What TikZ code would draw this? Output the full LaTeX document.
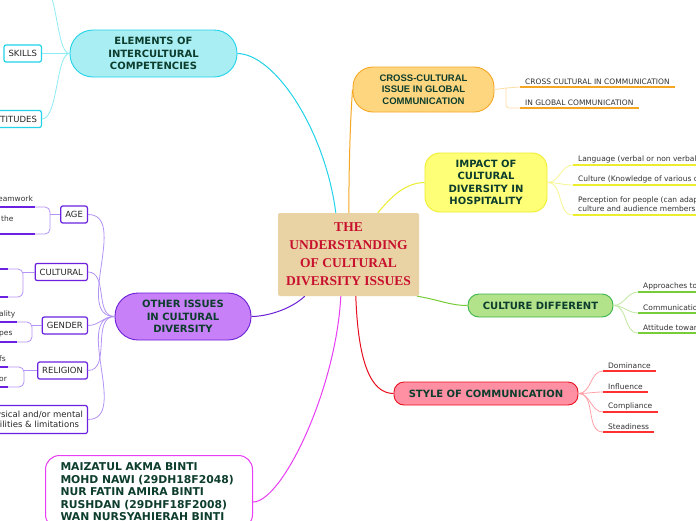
\documentclass[tikz,border=0pt]{standalone}
\usepackage{fontspec}
\usetikzlibrary{calc}
\setmainfont{DejaVu Sans}
\newfontfamily\titlefont{Liberation Serif}
\newfontfamily\arialfont{Liberation Sans}
\definecolor{tdark}{HTML}{0D3D2D}
\definecolor{tred}{HTML}{C8102E}
\definecolor{ctan}{HTML}{E9D3A4}
\definecolor{cyF}{HTML}{A9EEF3}
\definecolor{cyB}{HTML}{22D3EA}
\definecolor{cyL}{HTML}{8EECF5}
\definecolor{orF}{HTML}{FFD680}
\definecolor{orB}{HTML}{F5A623}
\definecolor{orL}{HTML}{FFDDA8}
\definecolor{yeF}{HTML}{FFFF77}
\definecolor{yeB}{HTML}{EDED30}
\definecolor{yeL}{HTML}{F6F690}
\definecolor{grF}{HTML}{B2E28A}
\definecolor{grB}{HTML}{3DB54A}
\definecolor{grL}{HTML}{BFE8A0}
\definecolor{grD}{HTML}{77CC3A}
\definecolor{reF}{HTML}{FF8FA3}
\definecolor{reB}{HTML}{E8101F}
\definecolor{reL}{HTML}{FFA0A8}
\definecolor{reD}{HTML}{FF3030}
\definecolor{puF}{HTML}{C780F8}
\definecolor{puB}{HTML}{6B1FD6}
\definecolor{puL}{HTML}{B393F5}
\definecolor{puD}{HTML}{6A22E0}
\definecolor{maB}{HTML}{E83DF5}
\definecolor{leaftext}{HTML}{333333}
\begin{document}
\begin{tikzpicture}[x=1pt,y=-1pt,
  mainnode/.style={draw, line width=0.9pt, align=center, text=tdark,
    font=\bfseries\fontsize{10}{12.5}\selectfont, inner sep=0pt},
  labelbox/.style={draw, line width=1.2pt, fill=white, rounded corners=2pt,
    font=\fontsize{8.5}{10}\selectfont, text=black!85, inner xsep=4.5pt,
    inner ysep=0pt, minimum height=17pt, anchor=east},
  leaf/.style={font=\fontsize{7.5}{9.5}\selectfont, text=leaftext,
    inner xsep=5pt, inner ysep=2pt, anchor=south west, align=left},
  frag/.style={font=\fontsize{7.5}{9}\selectfont, text=leaftext, inner sep=0pt, anchor=west},
  conn/.style={line width=1pt},
  sub/.style={line width=0.8pt},
  uline/.style={line width=1.6pt}
]
\clip (0,0) rectangle (696,520);
\fill[white] (0,0) rectangle (696,520);
\coordinate (re) at (700,0);

% ---------- centre ----------
\node[fill=ctan, rounded corners=2pt, minimum width=141pt, minimum height=83pt,
  align=center, text=tred, inner sep=0pt,
  font=\titlefont\bfseries\fontsize{13.5}{18}\selectfont] (c) at (348.5,254.5)
  {THE\\UNDERSTANDING\\OF CULTURAL\\DIVERSITY ISSUES};

% ---------- main topics ----------
\node[mainnode, draw=cyB, fill=cyF, rounded corners=23pt, minimum width=167pt, minimum height=47pt]
  (elem) at (153.5,53.5) {ELEMENTS OF\\INTERCULTURAL\\COMPETENCIES};
\node[mainnode, draw=orB, fill=orF, rounded corners=20pt, minimum width=141pt, minimum height=45pt,
  font=\arialfont\bfseries\fontsize{9.5}{11.5}\selectfont]
  (cross) at (423.5,89.5) {CROSS-CULTURAL\\ISSUE IN GLOBAL\\COMMUNICATION};
\node[mainnode, draw=yeB, fill=yeF, rounded corners=15pt, minimum width=122pt, minimum height=59pt]
  (imp) at (486,182.5) {IMPACT OF\\CULTURAL\\DIVERSITY IN\\HOSPITALITY};
\node[mainnode, draw=grB, fill=grF, rounded corners=11pt, minimum width=145pt, minimum height=23pt]
  (cdif) at (540.5,305.5) {CULTURE DIFFERENT};
\node[mainnode, draw=reB, fill=reF, rounded corners=10pt, minimum width=184pt, minimum height=23pt]
  (style) at (486,393.5) {STYLE OF COMMUNICATION};
\node[mainnode, draw=puB, fill=puF, rounded corners=23pt, minimum width=136pt, minimum height=47pt]
  (other) at (183,316.5) {OTHER ISSUES\\IN CULTURAL\\DIVERSITY};
\node[draw=maB, line width=1pt, fill=white, rounded corners=14pt, anchor=north west,
  minimum width=207pt, minimum height=73pt, inner xsep=15pt, inner ysep=0pt,
  text width=177pt, align=left, text=tdark, font=\bfseries\fontsize{10.8}{12.5}\selectfont]
  (auth) at (45,455)
  {MAIZATUL AKMA BINTI\\MOHD NAWI (29DH18F2048)\\NUR FATIN AMIRA BINTI\\RUSHDAN (29DHF18F2008)\\WAN NURSYAHIERAH BINTI};

% ---------- connectors from centre ----------
\draw[conn, cyB] ($(c.north west)+(58,0)$) .. controls (325,130) and (275,54) .. (elem.east);
\draw[conn, orB] ($(c.north west)+(71,0)$) .. controls (349,150) and (351,110) .. (cross.west);
\draw[conn, yeB] ($(c.north west)+(100,0)$) .. controls (392,196) and (405,183) .. (imp.west);
\draw[conn, grD] ($(c.south east)+(-2,0)$) .. controls (440,300) and (450,305.5) .. (cdif.west);
\draw[conn, reB] ($(c.south west)+(78,0)$) .. controls (358,360) and (370,393.5) .. (style.west);
\draw[conn, maB] ($(c.south west)+(63,0)$) .. controls (336,390) and (282,502) .. ($(auth.north east)+(0,47)$);
\draw[conn, puB] ($(c.south west)+(27,0)$) .. controls (290,310) and (266,316.5) .. (other.east);

% ---------- ELEMENTS children ----------
\node[labelbox, draw=cyB] (skills) at (42,53.5) {SKILLS};
\node[labelbox, draw=cyB] (att) at (42,119) {ATTITUDES};
\coordinate (know) at (42,-14);
\draw[sub, cyL] (elem.west) .. controls (58,53.5) and (54,53.5) .. (skills.east);
\draw[sub, cyL] (elem.west) .. controls (56,53.5) and (58,119) .. (att.east);
\draw[sub, cyL] (elem.west) .. controls (56,53.5) and (58,-14) .. (know);

% ---------- CROSS children ----------
\node[leaf] (cr1) at (520,87) {CROSS CULTURAL IN COMMUNICATION};
\node[leaf] (cr2) at (520,108) {IN GLOBAL COMMUNICATION};
\draw[uline, orB] (cr1.south west) -- (cr1.south east);
\draw[uline, orB] (cr2.south west) -- (cr2.south east);
\coordinate (crb) at (506,88);
\draw[sub, orL, rounded corners=3pt] (cross.east) -- (crb) -- (cr1.south west);
\draw[sub, orL, rounded corners=3pt] (crb) -- (506,108) -- (cr2.south west);

% ---------- IMPACT children ----------
\node[leaf] (im1) at (573,165) {Language (verbal or non verbal};
\node[leaf] (im2) at (573,185) {Culture (Knowledge of various c};
\node[leaf] (im3) at (573,215) {Perception for people (can adap\\culture and audience members)};
\foreach \n in {im1,im2,im3}{\draw[uline, yeB] (\n.south west) -- (\n.south west -| re);}
\foreach \n in {im1,im2,im3}{\draw[sub, yeL] (imp.east) to[out=0,in=180] (\n.south west);}

% ---------- CULTURE DIFFERENT children ----------
\node[leaf] (cd1) at (638,292) {Approaches to};
\node[leaf] (cd2) at (638,313) {Communicatio};
\node[leaf] (cd3) at (638,333) {Attitude towar};
\foreach \n in {cd1,cd2,cd3}{\draw[uline, grD] (\n.south west) -- (\n.south west -| re);}
\foreach \n in {cd1,cd2,cd3}{\draw[sub, grL] (cdif.east) to[out=0,in=180] (\n.south west);}

% ---------- STYLE children ----------
\node[leaf] (st1) at (603,371) {Dominance};
\node[leaf] (st2) at (603,392) {Influence};
\node[leaf] (st3) at (603,412) {Compliance};
\node[leaf] (st4) at (603,432) {Steadiness};
\foreach \n in {st1,st2,st3,st4}{\draw[uline, reD] (\n.south west) -- (\n.south east);}
\foreach \n in {st1,st2,st3,st4}{\draw[sub, reL] (style.east) to[out=0,in=180] (\n.south west);}

% ---------- OTHER ISSUES children ----------
\node[labelbox, draw=puD] (age) at (88,214.5) {AGE};
\node[labelbox, draw=puD] (cul) at (88,272) {CULTURAL};
\node[labelbox, draw=puD] (gen) at (88,325.5) {GENDER};
\node[labelbox, draw=puD] (rel) at (88,370.5) {RELIGION};
\node[labelbox, draw=puD, align=center, minimum height=28pt, font=\fontsize{8.5}{10.5}\selectfont]
  (phy) at (88,419.5) {Physical and/or mental\\abilities \& limitations};
\foreach \n in {age,cul,gen,rel,phy}{\draw[sub, puL] (other.west) to[out=180,in=0] (\n.east);}

% AGE leaves
\node[frag] (a1) at (-2,199) {eamwork};
\node[frag] (a2) at (1,219) {the};
\coordinate (a1u) at (0,207); \coordinate (a2u) at (0,234);
\draw[sub, puL, rounded corners=5pt] (a1u) -- (50,207) -- (50,234) -- (a2u);
\draw[sub, puL] (age.west) -- (50,214.5);
\draw[uline, puD] (a1u) -- (35,207); \draw[uline, puD] (a2u) -- (35,234);
% CULTURAL leaves
\coordinate (c1u) at (0,269); \coordinate (c2u) at (0,297);
\draw[sub, puL, rounded corners=5pt] (c1u) -- (23,269) -- (23,297) -- (c2u);
\draw[sub, puL] (cul.west) -- (23,272);
\draw[uline, puD] (c1u) -- (8,269); \draw[uline, puD] (c2u) -- (8,297);
% GENDER leaves
\node[frag] (g1) at (-1,314) {ality};
\node[frag] (g2) at (-1,334) {pes};
\coordinate (g1u) at (0,322); \coordinate (g2u) at (0,342);
\draw[sub, puL, rounded corners=5pt] (g1u) -- (32,322) -- (32,342) -- (g2u);
\draw[sub, puL] (gen.west) -- (32,325.5);
\draw[uline, puD] (g1u) -- (17,322); \draw[uline, puD] (g2u) -- (17,342);
% RELIGION leaves
\node[frag] (r1) at (-1,359) {fs};
\node[frag] (r2) at (-1,379) {or};
\coordinate (r1u) at (0,367); \coordinate (r2u) at (0,387);
\draw[sub, puL, rounded corners=5pt] (r1u) -- (24,367) -- (24,387) -- (r2u);
\draw[sub, puL] (rel.west) -- (24,370.5);
\draw[uline, puD] (r1u) -- (8,367); \draw[uline, puD] (r2u) -- (8,387);
\end{tikzpicture}
\end{document}
